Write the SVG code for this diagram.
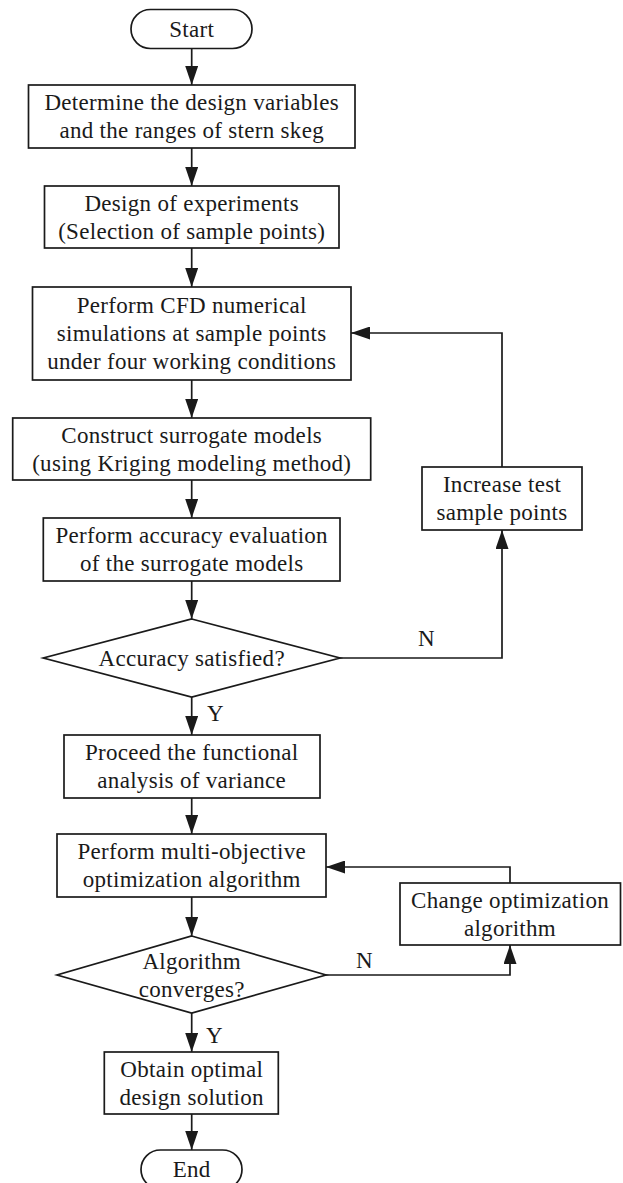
<svg xmlns="http://www.w3.org/2000/svg" width="623" height="1183" viewBox="0 0 623 1183">
<style>
.n{fill:#fff;stroke:#1a1a1a;stroke-width:1.7}
.t{font-family:"Liberation Serif","Times New Roman",serif;font-size:23px;fill:#1a1a1a;text-anchor:middle;letter-spacing:0.3px}
.l{font-family:"Liberation Serif","Times New Roman",serif;font-size:23px;fill:#1a1a1a}
.c{fill:none;stroke:#1a1a1a;stroke-width:1.7;marker-end:url(#ah)}
</style>
<defs>
<marker id="ah" markerUnits="userSpaceOnUse" markerWidth="19" markerHeight="13" refX="19" refY="6.5" orient="auto">
<path d="M0,0 L19,6.5 L0,13 z" fill="#1a1a1a"/>
</marker>
</defs>
<rect width="623" height="1183" fill="#fff"/>
<g id="connectors">
<path class="c" d="M191.7,48.3 V85"/>
<path class="c" d="M191.7,148 V186"/>
<path class="c" d="M191.7,248 V287"/>
<path class="c" d="M191.7,380 V418"/>
<path class="c" d="M191.7,480 V518"/>
<path class="c" d="M191.7,581 V619"/>
<path class="c" d="M191.7,697 V735"/>
<path class="c" d="M191.7,798 V834"/>
<path class="c" d="M191.7,897 V936"/>
<path class="c" d="M191.7,1013 V1052"/>
<path class="c" d="M191.7,1114 V1150"/>
<path class="c" d="M340,658 H502 V530"/>
<path class="c" d="M502,467 V333 H351"/>
<path class="c" d="M326,975 H510 V945"/>
<path class="c" d="M510,883 V867 H326"/>
<text class="l" x="207" y="721">Y</text>
<text class="l" x="206" y="1043">Y</text>
<text class="l" x="418" y="646">N</text>
<text class="l" x="356" y="968">N</text>
</g>
<g id="start"><rect class="n" x="131" y="9.5" width="121" height="39" rx="19.5"/><text class="t" x="191.7" y="36.5">Start</text></g>
<g id="box1"><rect class="n" x="28.5" y="85" width="326.5" height="63"/><text class="t" x="191.7" y="110">Determine the design variables</text><text class="t" x="191.7" y="138">and the ranges of stern skeg</text></g>
<g id="box2"><rect class="n" x="44.5" y="186" width="294.5" height="62"/><text class="t" x="191.7" y="210.5">Design of experiments</text><text class="t" x="191.7" y="238.5">(Selection of sample points)</text></g>
<g id="box3"><rect class="n" x="32.5" y="287" width="318.5" height="93"/><text class="t" x="191.7" y="313">Perform CFD numerical</text><text class="t" x="191.7" y="341">simulations at sample points</text><text class="t" x="191.7" y="369">under four working conditions</text></g>
<g id="box4"><rect class="n" x="12.7" y="418" width="358" height="62"/><text class="t" x="191.7" y="442.5">Construct surrogate models</text><text class="t" x="191.7" y="470.5">(using Kriging modeling method)</text></g>
<g id="box5"><rect class="n" x="43.3" y="518" width="296.7" height="63"/><text class="t" x="191.7" y="543">Perform accuracy evaluation</text><text class="t" x="191.7" y="571">of the surrogate models</text></g>
<g id="dec1"><polygon class="n" points="191.7,619 340,658 191.7,697 43.3,658"/><text class="t" x="191.7" y="665.5">Accuracy satisfied?</text></g>
<g id="increase"><rect class="n" x="422" y="467" width="160" height="63"/><text class="t" x="502" y="492">Increase test</text><text class="t" x="502" y="520">sample points</text></g>
<g id="box6"><rect class="n" x="64" y="735" width="256" height="63"/><text class="t" x="191.7" y="760">Proceed the functional</text><text class="t" x="191.7" y="788">analysis of variance</text></g>
<g id="box7"><rect class="n" x="57" y="834" width="269" height="63"/><text class="t" x="191.7" y="859">Perform multi-objective</text><text class="t" x="191.7" y="887">optimization algorithm</text></g>
<g id="change"><rect class="n" x="400" y="883" width="220.5" height="62"/><text class="t" x="510" y="907.5">Change optimization</text><text class="t" x="510" y="935.5">algorithm</text></g>
<g id="dec2"><polygon class="n" points="191.7,936 326,975 191.7,1013 57,975"/><text class="t" x="191.7" y="969">Algorithm</text><text class="t" x="191.7" y="997">converges?</text></g>
<g id="box8"><rect class="n" x="104.3" y="1052" width="174" height="62"/><text class="t" x="191.7" y="1076.5">Obtain optimal</text><text class="t" x="191.7" y="1104.5">design solution</text></g>
<g id="end"><rect class="n" x="141" y="1150" width="101" height="39" rx="19.5"/><text class="t" x="191.7" y="1177">End</text></g>
</svg>
